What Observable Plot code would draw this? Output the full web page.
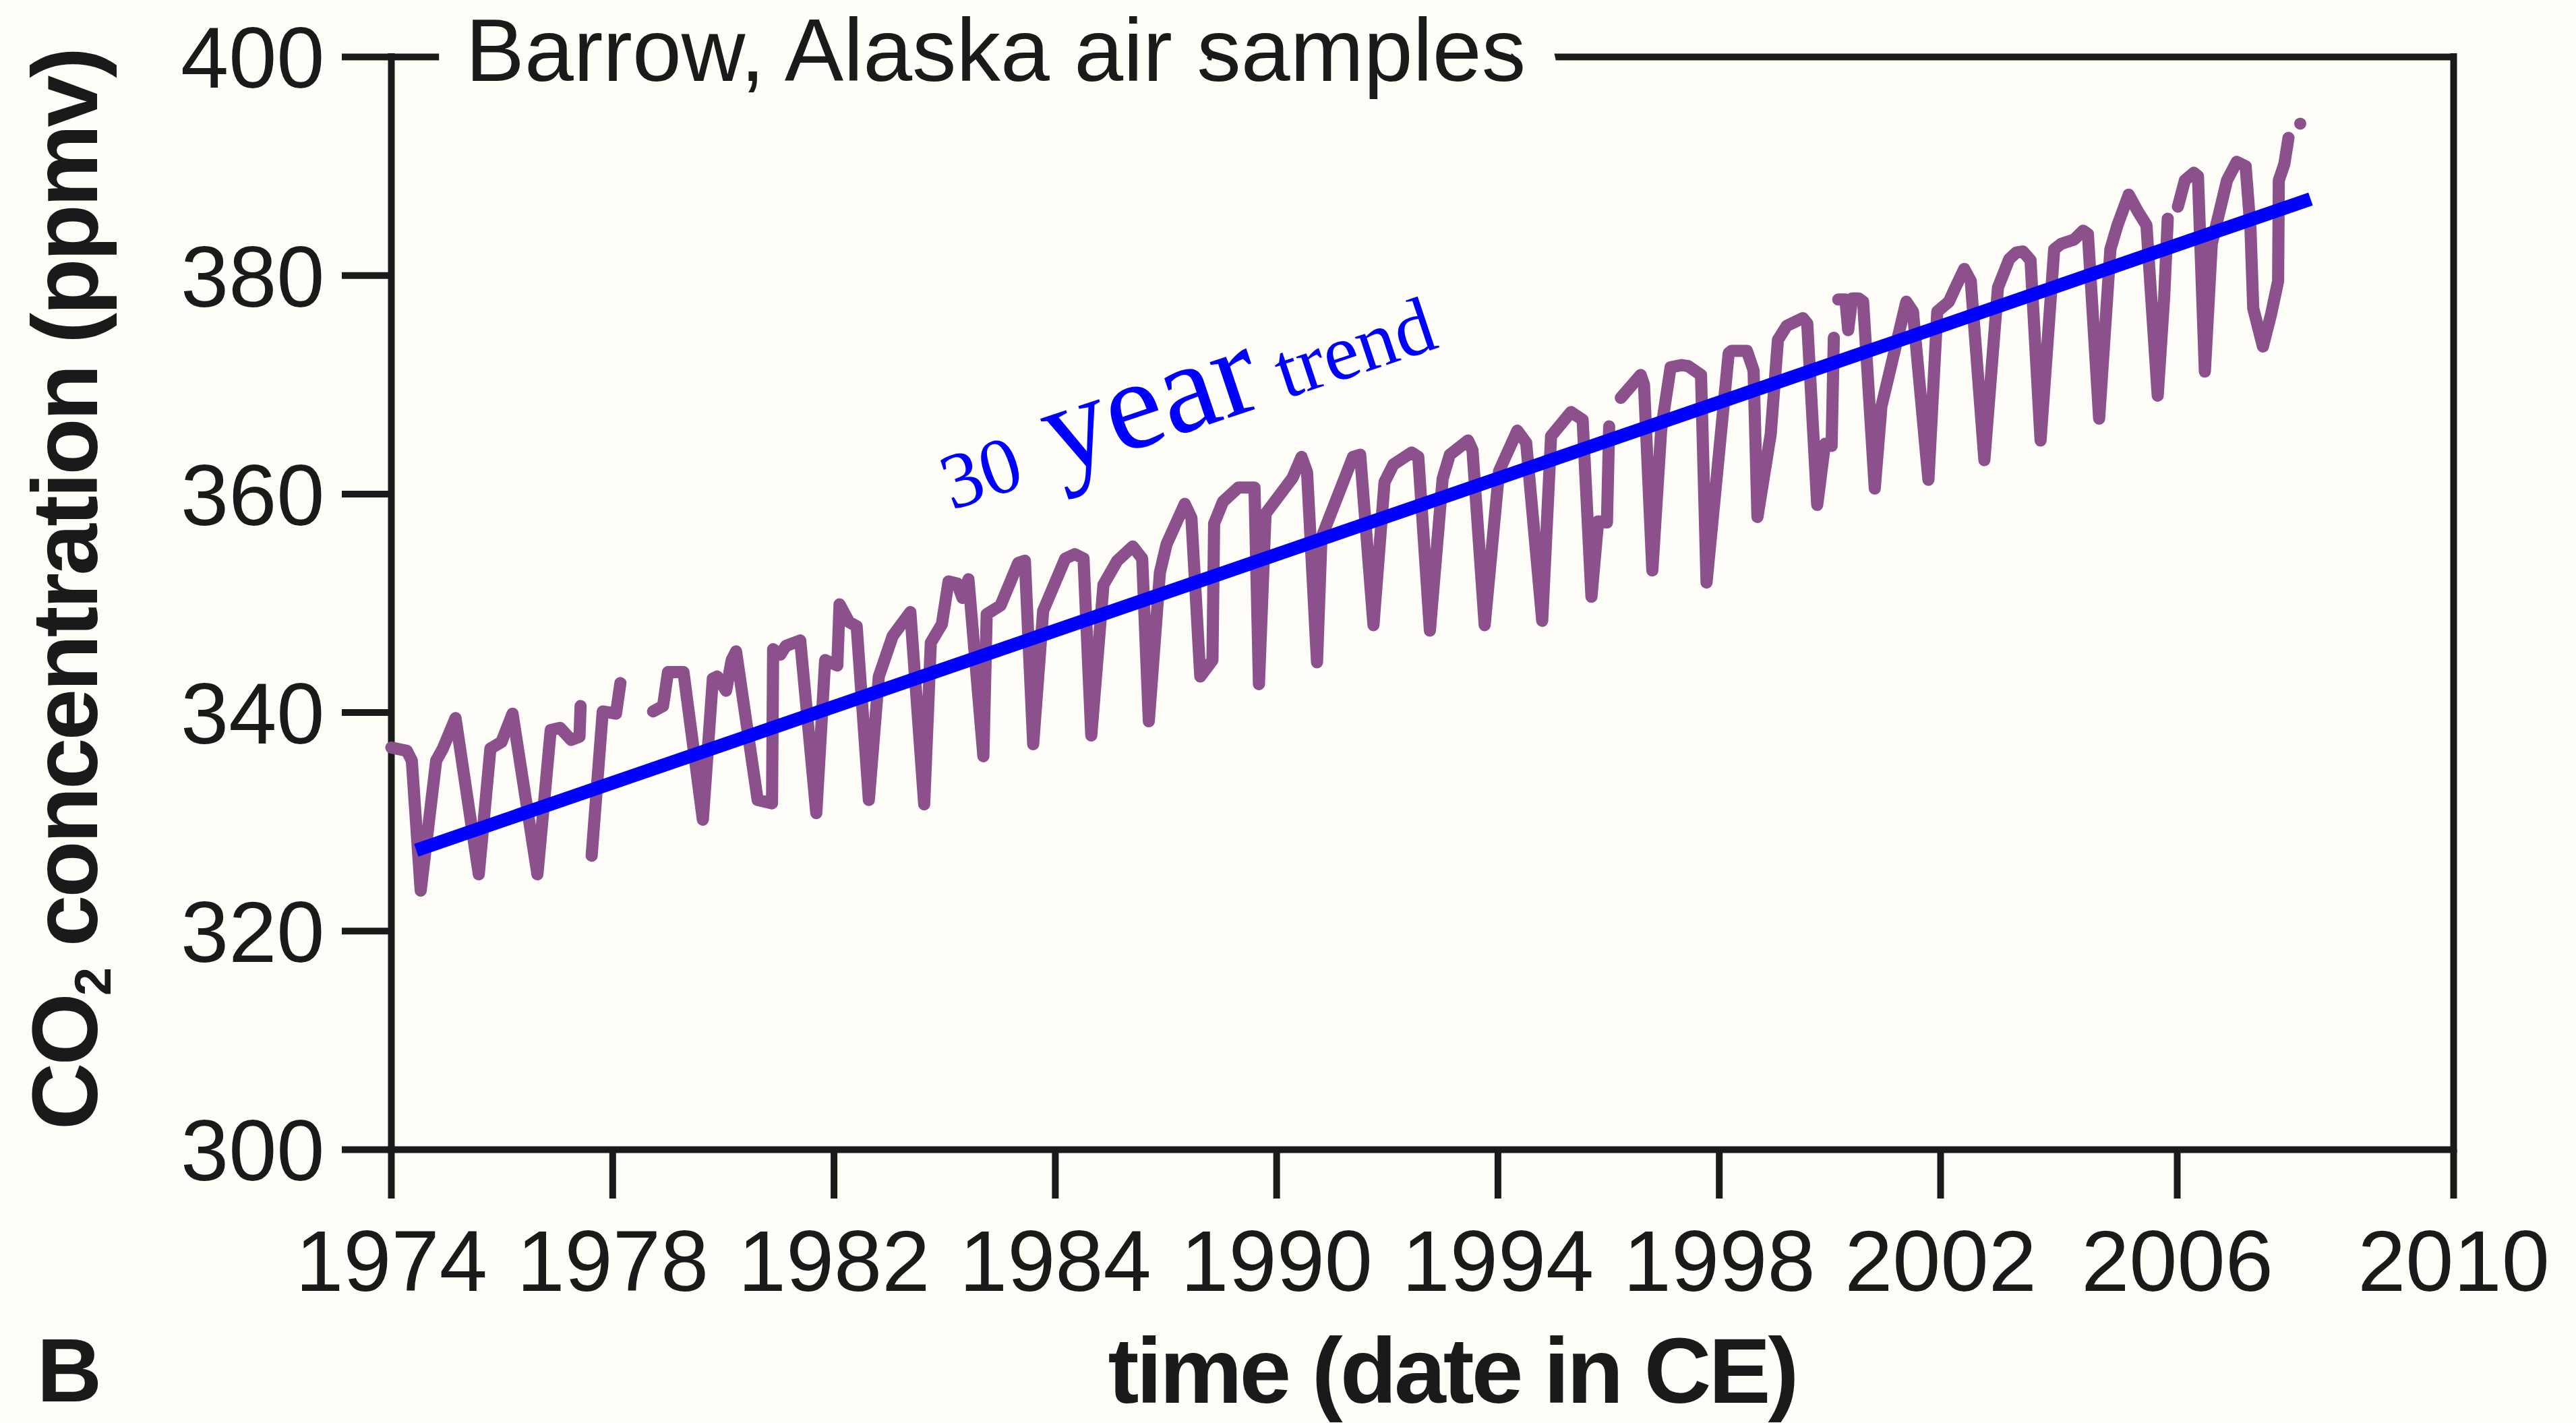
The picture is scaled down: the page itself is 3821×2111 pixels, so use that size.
<!DOCTYPE html>
<html>
<head>
<meta charset="utf-8">
<script src="https://cdn.jsdelivr.net/npm/d3@7"></script>
<script src="https://cdn.jsdelivr.net/npm/@observablehq/plot@0.6"></script>
<style>
  html, body { margin: 0; padding: 0; background: #fefdf8; }
  #chart svg { display: block; }
</style>
</head>
<body>
<div id="chart"></div>
<script>
// ---------------- data ----------------
const co2Year = [
  1974.00,1974.28,1974.37,1974.53,1974.81,1974.93,1975.16,1975.58,1975.79,1975.99,1976.19,1976.64,1976.88,1977.05,1977.25,1977.40,1977.42,
  1977.62,1977.82,1978.06,1978.14,
  1978.73,1978.91,1979.00,1979.28,1979.63,1979.81,1979.89,1980.05,1980.15,1980.23,
  1980.62,1980.88,1980.90,1981.03,1981.13,1981.39,1981.68,1981.84,1982.06,1982.10,1982.27,1982.41,
  1982.63,1982.81,1983.06,1983.38,1983.63,1983.75,1983.95,1984.07,1984.23,1984.32,1984.43,
  1984.70,1984.76,1985.01,1985.33,1985.45,1985.60,1985.78,1986.18,1986.35,1986.51,
  1986.65,1986.87,1987.12,1987.40,1987.57,1987.69,1987.89,1988.01,1988.34,1988.46,
  1988.62,1988.84,1988.87,1989.03,1989.31,1989.60,1989.68,1989.80,1990.29,1990.45,1990.55,
  1990.73,1990.81,1991.38,1991.51,1991.75,1991.95,1992.11,1992.44,1992.56,
  1992.77,1993.00,1993.13,1993.46,1993.54,1993.76,1994.02,1994.35,1994.51,
  1994.80,1994.96,1995.32,1995.53,1995.69,1995.81,1995.97,
  1996.01,1996.22,1996.58,1996.64,1996.79,1996.95,1997.12,1997.32,1997.44,1997.67,
  1997.77,1998.17,1998.22,1998.50,1998.62,1998.69,1998.93,1999.06,1999.22,1999.51,1999.59,
  1999.77,1999.91,2000.03,
  2000.07,2000.15,2000.28,2000.33,2000.40,2000.52,2000.60,2000.81,2000.93,2001.38,2001.50,
  2001.78,2001.94,2002.14,2002.25,2002.40,2002.51,2002.74,2002.97,2003.16,2003.28,2003.39,2003.52,
  2003.69,2003.92,2004.04,2004.26,2004.41,2004.49,2004.68,2004.87,2004.99,2005.18,2005.33,2005.48,
  2005.67,2005.78,
  2005.84,2006.01,2006.11,2006.24,2006.30,2006.40,2006.50,2006.72,2006.86,2006.99,
  2007.06,2007.10,2007.24,2007.36,2007.46,2007.47,2007.55,
  2007.61,2007.78
];
const co2Value = [
  336.8,336.5,335.6,323.7,335.6,336.7,339.5,325.2,336.7,337.3,339.9,325.2,338.4,338.6,337.5,337.8,340.6,
  326.9,340.1,339.9,342.7,
  340.1,340.6,343.7,343.7,330.2,343.1,343.3,342.0,344.8,345.6,
  332.0,331.7,345.8,345.3,346.1,346.6,330.8,344.8,344.3,349.9,348.3,347.9,
  332.0,343.3,347.0,349.2,331.6,346.4,348.1,352.0,351.8,350.5,352.2,
  336.0,349.0,349.8,353.7,353.9,337.1,349.3,354.1,354.5,354.1,
  337.9,351.7,353.9,355.2,354.1,339.2,352.8,355.4,359.1,357.8,
  343.3,344.8,357.3,359.3,360.6,360.6,342.6,358.2,361.5,363.4,362.0,
  344.6,356.0,363.4,363.6,348.0,361.1,362.7,363.8,363.4,
  347.5,361.4,363.6,364.9,364.0,348.0,362.1,365.8,364.7,
  348.4,365.3,367.5,366.8,350.6,357.5,357.4,
  366.2,368.8,370.9,370.0,353.0,365.9,371.6,371.8,371.7,370.9,
  351.9,372.9,373.1,373.1,371.3,357.9,365.5,374.1,375.4,376.1,375.6,
  359.0,364.6,364.4,
  374.3,377.8,377.8,375.0,377.9,377.9,377.6,360.5,368.0,377.6,376.7,
  361.3,376.7,377.6,378.9,380.6,379.5,363.1,378.9,381.5,382.1,382.2,381.4,
  364.9,382.4,382.9,383.3,384.1,383.8,366.9,382.4,384.6,387.4,385.9,384.6,
  369.0,378.1,
  385.2,386.3,388.7,389.4,389.1,371.2,382.9,388.7,390.4,390.0,
  384.3,377.0,373.5,376.5,379.5,388.7,390.2,
  392.6,393.9
];
// continuous pieces of the sampled record (the record has gaps)
const co2Piece = [
  ...Array(17).fill(1), ...Array(4).fill(2), ...Array(90).fill(3),
  ...Array(24).fill(4), ...Array(37).fill(5), ...Array(17).fill(6), ...Array(2).fill(7)
];
const trendYear = [1974.45, 2007.93];
const trendValue = [327.4, 387.0];

const yTicks = [300, 320, 340, 360, 380, 400];
const xTickYears = [1974, 1978, 1982, 1986, 1990, 1994, 1998, 2002, 2006, 2010];
const xTickLabels = ["1974", "1978", "1982", "1984", "1990", "1994", "1998", "2002", "2006", "2010"];

const titleText = "Barrow, Alaska air samples";
const yLabelText = "CO2 concentration (ppmv)";
const xLabelText = "time (date in CE)";
const panelText = "B";
const trendWords = ["30", "year", "trend"];
const trendLabelAt = [{year: 1983.98, value: 360.7}];

// ---------------- drawing ----------------
const W = 3821, H = 2111;
const bg = "#fefdf8", ink = "#1a1a1a";
const sans = "'Liberation Sans', Arial, Helvetica, sans-serif";
const serif = "'Liberation Serif', 'Times New Roman', Times, serif";
const frameLeft = 580, frameRight = 3639, frameTop = 84, frameBottom = 1705;

const co2 = co2Year.map((x, i) => ({x, y: co2Value[i], piece: co2Piece[i]}));
const trend = trendYear.map((x, i) => ({x, y: trendValue[i]}));

const chart = Plot.plot({
  width: W,
  height: H,
  marginLeft: frameLeft,
  marginRight: W - frameRight,
  marginTop: frameTop,
  marginBottom: H - frameBottom,
  style: {background: bg, fontFamily: sans, color: ink},
  x: {type: "linear", domain: [1974, 2002, 2006, 2010], range: [580, 2878, 3229, 3639], label: null},
  y: {domain: [300, 400], range: [frameBottom, frameTop], label: null},
  marks: [
    // frame
    Plot.ruleX([1974, 2010], {stroke: ink, strokeWidth: 10, strokeLinecap: "square"}),
    Plot.ruleY([300, 400], {stroke: ink, strokeWidth: 10, strokeLinecap: "square"}),
    // y axis ticks + labels
    Plot.axisY({ticks: yTicks, tickSize: 73, tickFormat: () => "", stroke: ink, strokeWidth: 10, label: null}),
    Plot.axisY({ticks: yTicks, tickSize: 0, tickPadding: 99, dy: 5, fontSize: 128, fill: ink, label: null, tickFormat: d => String(d)}),
    // x axis ticks + labels
    Plot.axisX({ticks: xTickYears, tickSize: 73, tickPadding: 46, fontSize: 128, stroke: ink, fill: ink, strokeWidth: 10, label: null,
      tickFormat: d => xTickLabels[xTickYears.indexOf(d)]}),
    // data
    Plot.line(co2, {x: "x", y: "y", z: "piece", stroke: "#8c518c", strokeWidth: 18, strokeLinejoin: "round", strokeLinecap: "round"}),
    Plot.line(trend, {x: "x", y: "y", stroke: "#0000ff", strokeWidth: 20, strokeLinecap: "butt"}),
    // trend annotation
    Plot.text(trendLabelAt, {x: "year", y: "value", text: () => trendWords.join(" "), rotate: -18.5, textAnchor: "start",
      lineAnchor: "middle", fontFamily: serif, fontSize: 118, fill: "#0000ff"}),
    // title breaking the top frame line
    Plot.text([titleText], {frameAnchor: "top-left", textAnchor: "start", lineAnchor: "middle", dx: 110, dy: -6, fontSize: 131,
      fill: ink, stroke: bg, strokeWidth: 100}),
    // axis titles
    Plot.text([yLabelText], {frameAnchor: "left", rotate: -90, textAnchor: "middle", lineAnchor: "middle", dx: -481, dy: -20,
      fontSize: 138, fontWeight: "bold", fill: ink}),
    Plot.text([xLabelText], {frameAnchor: "bottom", textAnchor: "middle", lineAnchor: "middle", dx: 44, dy: 331,
      fontSize: 138, fontWeight: "bold", fill: ink}),
    Plot.text([panelText], {frameAnchor: "bottom-left", textAnchor: "start", lineAnchor: "middle", dx: -526, dy: 331,
      fontSize: 134, fontWeight: "bold", fill: ink})
  ]
});

// mixed-size words of the trend annotation and the CO2 subscript
const trendSizes = [118, 190, 118];
d3.select(chart).selectAll("text").each(function () {
  const el = d3.select(this);
  const s = this.textContent;
  if (s === trendWords.join(" ")) {
    el.attr("dy", null).text(null);
    trendWords.forEach((w, i) => {
      el.append("tspan").attr("font-size", trendSizes[i]).text((i ? " " : "") + w);
    });
  } else if (s === yLabelText) {
    el.attr("letter-spacing", "-4px").text(null);
    el.append("tspan").text(s.slice(0, 2));
    el.append("tspan").attr("font-size", 76).attr("dy", 20).text(s.slice(2, 3));
    el.append("tspan").attr("dy", -20).text(s.slice(3));
  } else if (s === xLabelText) {
    el.attr("letter-spacing", "-4px");
  }
});

document.getElementById("chart").appendChild(chart);
</script>
</body>
</html>
